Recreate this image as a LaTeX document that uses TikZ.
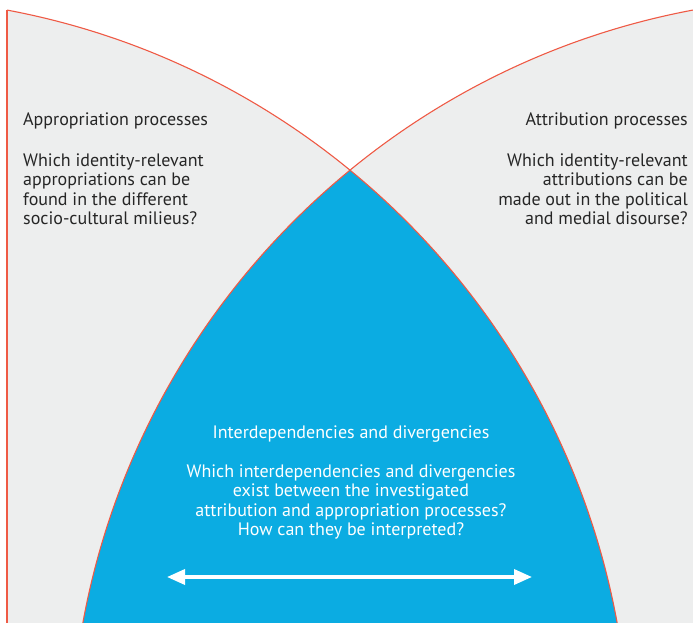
\documentclass[tikz,border=0pt]{standalone}
\usepackage{fontspec}
\setmainfont{PT Sans}
\usetikzlibrary{arrows.meta}
\definecolor{bggrey}{HTML}{EDEEEE}
\definecolor{lensblue}{HTML}{0BACE2}
\definecolor{edgered}{HTML}{EF5A45}
\tikzset{
  txt/.style={inner sep=0pt, font=\fontsize{18}{19.3}\selectfont},
  darktxt/.style={txt, text=black!85},
  lighttxt/.style={txt, text=white},
  edge/.style={draw=edgered, line width=1.1pt},
  twoway/.style={white, line width=3.5pt, {Triangle[length=18pt,width=15pt]}-{Triangle[length=18pt,width=15pt]}}
}
\begin{document}
\begin{tikzpicture}[x=1pt,y=-1pt]
\useasboundingbox (0,0) rectangle (693,623);
\coordinate (cl) at (-134.4,761);
\coordinate (cr) at (834.4,761);
% grey shapes
\begin{scope}
  \clip (7,0) rectangle (693,623);
  \fill[bggrey] (cl) circle (764);
  \fill[bggrey] (cr) circle (764);
  % blue lens
  \begin{scope}
    \clip (cl) circle (764);
    \fill[lensblue] (cr) circle (764);
  \end{scope}
  \draw[edge] (cl) circle (764);
  \draw[edge] (cr) circle (764);
\end{scope}
\coordinate (lt) at (7,10.2);
\coordinate (lb) at (7,623);
\draw[edge] (lt) -- (lb);
% texts (base anchor of a multi-line node = baseline of its last line)
\node[darktxt, anchor=base west] (leftT) at (23,126) {Appropriation processes};
\node[darktxt, anchor=base west, align=left] (leftQ) at (23,224.5) {Which identity-relevant\\appropriations can be\\found in the different\\socio-cultural milieus?};
\node[darktxt, anchor=base east] (rightT) at (688,126) {Attribution processes};
\node[darktxt, anchor=base east, align=right] (rightQ) at (688,224.5) {Which identity-relevant\\attributions can be\\made out in the political\\and medial disourse?};
\node[lighttxt, anchor=base] (midT) at (351,438) {Interdependencies and divergencies};
\node[lighttxt, anchor=base, align=center] (midQ) at (351,535.5) {Which interdependencies and divergencies\\exist between the investigated\\attribution and appropriation processes?\\How can they be interpreted?};
% arrow
\coordinate (arL) at (167,577);
\coordinate (arR) at (532,577);
\draw[twoway] (arL) -- (arR);
\end{tikzpicture}
\end{document}
